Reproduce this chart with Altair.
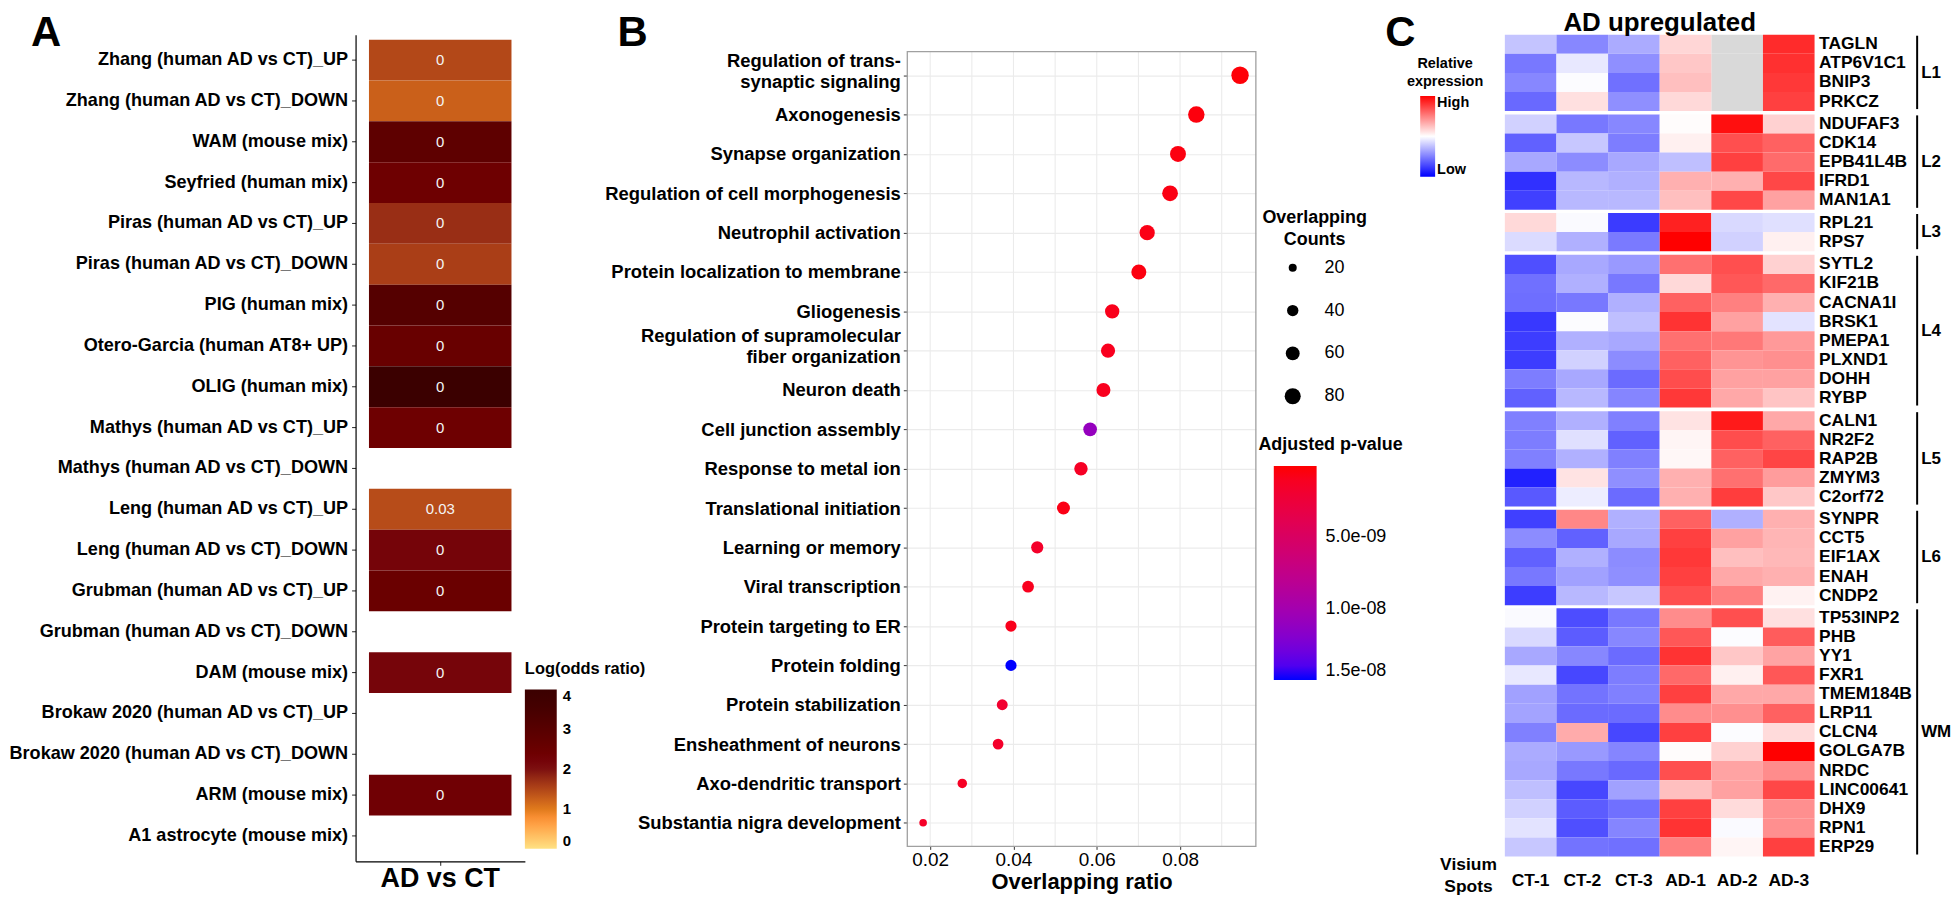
import altair as alt
import pandas as pd

FONT = "Liberation Sans"
NARROW = "Liberation Sans Narrow, Liberation Sans, sans-serif"

# ---------------- Panel A data ----------------
A_sets = [
    "Zhang (human AD vs CT)_UP", "Zhang (human AD vs CT)_DOWN", "WAM (mouse mix)",
    "Seyfried (human mix)", "Piras (human AD vs CT)_UP", "Piras (human AD vs CT)_DOWN",
    "PIG (human mix)", "Otero-Garcia (human AT8+ UP)", "OLIG (human mix)",
    "Mathys (human AD vs CT)_UP", "Mathys (human AD vs CT)_DOWN", "Leng (human AD vs CT)_UP",
    "Leng (human AD vs CT)_DOWN", "Grubman (human AD vs CT)_UP", "Grubman (human AD vs CT)_DOWN",
    "DAM (mouse mix)", "Brokaw 2020 (human AD vs CT)_UP", "Brokaw 2020 (human AD vs CT)_DOWN",
    "ARM (mouse mix)", "A1 astrocyte (mouse mix)",
]
A_log_odds = [1.48, 1.24, 2.82, 2.40, 1.73, 1.57, 3.10, 2.56, 4.00, 2.40,
              None, 1.44, 2.20, 2.50, None, 2.18, None, None, 2.34, None]
A_cell_text = ["0", "0", "0", "0", "0", "0", "0", "0", "0", "0",
               None, "0.03", "0", "0", None, "0", None, None, "0", None]
A_comparison = "AD vs CT"
A_legend_ticks = [0, 1, 2, 3, 4]

# ---------------- Panel B data ----------------
B_terms = [
    "Regulation of trans-|synaptic signaling", "Axonogenesis", "Synapse organization",
    "Regulation of cell morphogenesis", "Neutrophil activation", "Protein localization to membrane",
    "Gliogenesis", "Regulation of supramolecular|fiber organization", "Neuron death",
    "Cell junction assembly", "Response to metal ion", "Translational initiation",
    "Learning or memory", "Viral transcription", "Protein targeting to ER", "Protein folding",
    "Protein stabilization", "Ensheathment of neurons", "Axo-dendritic transport",
    "Substantia nigra development",
]
B_ratio = [0.0944, 0.0839, 0.0795, 0.0776, 0.0721, 0.0701, 0.0637, 0.0627, 0.0616, 0.0584,
           0.0562, 0.0520, 0.0457, 0.0435, 0.0394, 0.0394, 0.0373, 0.0363, 0.0277, 0.0183]
B_count = [94, 84, 79, 77, 72, 70, 64, 62, 61, 58, 56, 52, 46, 43, 39, 39, 37, 36, 28, 18]
B_padj = [2e-10, 3e-10, 4e-10, 5e-10, 6e-10, 4e-10, 8e-10, 9e-10, 9e-10, 1.1e-08,
          1.2e-09, 6e-10, 1.5e-09, 9e-10, 8e-10, 1.5e-08, 1.8e-09, 1.5e-09, 1.2e-09, 1.4e-09]
B_x_ticks = [0.02, 0.04, 0.06, 0.08]
B_x_minor = [0.03, 0.05, 0.07, 0.09]
B_size_ticks = [20, 40, 60, 80]
B_p_ticks = [5e-9, 1e-8, 1.5e-8]

# ---------------- Panel C data ----------------
C_samples = ["CT-1", "CT-2", "CT-3", "AD-1", "AD-2", "AD-3"]
C_groups = ["L1", "L2", "L3", "L4", "L5", "L6", "WM"]
C_genes = {
    "L1": ["TAGLN", "ATP6V1C1", "BNIP3", "PRKCZ"],
    "L2": ["NDUFAF3", "CDK14", "EPB41L4B", "IFRD1", "MAN1A1"],
    "L3": ["RPL21", "RPS7"],
    "L4": ["SYTL2", "KIF21B", "CACNA1I", "BRSK1", "PMEPA1", "PLXND1", "DOHH", "RYBP"],
    "L5": ["CALN1", "NR2F2", "RAP2B", "ZMYM3", "C2orf72"],
    "L6": ["SYNPR", "CCT5", "EIF1AX", "ENAH", "CNDP2"],
    "WM": ["TP53INP2", "PHB", "YY1", "FXR1", "TMEM184B", "LRP11", "CLCN4", "GOLGA7B",
           "NRDC", "LINC00641", "DHX9", "RPN1", "ERP29"],
}
C_expr = {
    "L1": [[-0.23, -0.47, -0.33, 0.16, None, 0.83],
           [-0.53, -0.09, -0.44, 0.22, None, 0.81],
           [-0.47, -0.01, -0.56, 0.25, None, 0.78],
           [-0.59, 0.12, -0.44, 0.15, None, 0.75]],
    "L2": [[-0.18, -0.53, -0.47, 0.01, 0.94, 0.18],
           [-0.62, -0.22, -0.51, 0.06, 0.69, 0.62],
           [-0.34, -0.45, -0.34, -0.25, 0.75, 0.58],
           [-0.81, -0.28, -0.31, 0.31, 0.31, 0.72],
           [-0.75, -0.28, -0.28, 0.25, 0.72, 0.37]],
    "L3": [[0.15, -0.02, -0.77, 0.87, -0.15, -0.12],
           [-0.14, -0.31, -0.52, 1.00, -0.18, 0.06]],
    "L4": [[-0.69, -0.34, -0.40, 0.56, 0.69, 0.18],
           [-0.56, -0.31, -0.53, 0.15, 0.66, 0.59],
           [-0.57, -0.53, -0.31, 0.62, 0.50, 0.31],
           [-0.78, -0.01, -0.25, 0.80, 0.37, -0.11],
           [-0.76, -0.31, -0.34, 0.56, 0.53, 0.40],
           [-0.76, -0.18, -0.45, 0.62, 0.42, 0.44],
           [-0.51, -0.34, -0.58, 0.70, 0.37, 0.37],
           [-0.62, -0.28, -0.48, 0.78, 0.34, 0.23]],
    "L5": [[-0.50, -0.31, -0.50, 0.11, 0.90, 0.34],
           [-0.51, -0.12, -0.62, 0.04, 0.70, 0.62],
           [-0.50, -0.31, -0.50, 0.03, 0.62, 0.73],
           [-0.87, 0.11, -0.44, 0.31, 0.56, 0.39],
           [-0.65, -0.07, -0.58, 0.31, 0.76, 0.22]],
    "L6": [[-0.75, 0.47, -0.31, 0.62, -0.31, 0.31],
           [-0.45, -0.62, -0.34, 0.75, 0.37, 0.29],
           [-0.62, -0.31, -0.45, 0.78, 0.25, 0.28],
           [-0.53, -0.37, -0.44, 0.75, 0.34, 0.31],
           [-0.76, -0.28, -0.22, 0.69, 0.50, 0.05]],
    "WM": [[-0.02, -0.70, -0.53, 0.45, 0.69, 0.12],
           [-0.15, -0.64, -0.47, 0.66, -0.01, 0.64],
           [-0.34, -0.47, -0.58, 0.80, 0.22, 0.36],
           [-0.09, -0.72, -0.51, 0.59, 0.06, 0.66],
           [-0.37, -0.55, -0.50, 0.75, 0.34, 0.34],
           [-0.36, -0.58, -0.58, 0.45, 0.44, 0.62],
           [-0.50, 0.33, -0.72, 0.75, -0.01, 0.14],
           [-0.33, -0.40, -0.48, 0.01, 0.18, 1.00],
           [-0.34, -0.53, -0.59, 0.69, 0.36, 0.45],
           [-0.25, -0.72, -0.37, 0.25, 0.37, 0.72],
           [-0.18, -0.64, -0.56, 0.75, 0.14, 0.44],
           [-0.11, -0.69, -0.48, 0.80, -0.02, 0.44],
           [-0.22, -0.55, -0.56, 0.50, 0.04, 0.75]],
}

# ---------------- layout constants ----------------
A_W, A_H = 170, 830
B_W, B_TOP, B_BOT = 350, 17, 815
C_W = 311
GAP_AB, GAP_BC = 384, 250
ROW = (823 - 18) / 42.0
LETTER = dict(fontSize=42, fontWeight="bold", font=FONT, color="black",
              anchor="start", frame="group", offset=0, dy=20.8)


def spacer(w, h):
    return alt.Chart(pd.DataFrame({"s": [0]})).mark_point(opacity=0).encode(
        x=alt.value(0), y=alt.value(0)).properties(width=w, height=h)


# ================= Panel A =================
dfA = pd.DataFrame({"set": A_sets, "lor": A_log_odds, "lab": A_cell_text,
                    "cmp": [A_comparison] * len(A_sets)})
yA = alt.Y("set:N", scale=alt.Scale(domain=A_sets, paddingInner=0, paddingOuter=5 / 41),
           axis=alt.Axis(title=None, labelFontSize=18.15, labelFontWeight="bold", labelFont=FONT,
                         labelColor="black", tickSize=4, tickColor="#222222", labelPadding=4,
                         domainColor="black", domainWidth=1.2, labelLimit=0, labelOverlap=False,
                         grid=False))
xA = alt.X("cmp:N", scale=alt.Scale(domain=[A_comparison], paddingInner=0, paddingOuter=0.094),
           axis=alt.Axis(title=None, labelAngle=0, labelFontSize=27, labelFontWeight="bold",
                         labelFont=FONT, labelColor="black", tickSize=4, tickColor="#222222",
                         labelPadding=0, domainColor="black", domainWidth=1.2, grid=False))
rectA = alt.Chart(dfA).transform_filter("isValid(datum.lor)").mark_rect().encode(
    x=xA, y=yA,
    color=alt.Color("lor:Q",
                    scale=alt.Scale(domain=[0, 1, 2, 4],
                                    range=["#FFFFFF", "#E07A1C", "#7D1010", "#000000"]),
                    legend=alt.Legend(title="Log(odds ratio)", orient="none", legendX=170,
                                      legendY=629, direction="vertical", gradientLength=160,
                                      gradientThickness=32, values=A_legend_ticks,
                                      titleFontSize=16.5, titleFontWeight="bold", titleFont=FONT,
                                      titleColor="black", titleAnchor="start", titleAlign="left",
                                      titlePadding=12, titleLimit=0,
                                      labelFontSize=15, labelFontWeight="bold", labelFont=FONT,
                                      labelColor="black", labelOffset=6, padding=0,
                                      gradientStrokeWidth=0)),
)
textA = alt.Chart(dfA).transform_filter("isValid(datum.lab)").mark_text(
    color="#F4F4F4", fontSize=15, font=NARROW).encode(x=xA, y=yA, text="lab:N")
plotA = alt.layer(rectA, textA).properties(
    width=A_W, height=A_H, title=alt.TitleParams("A", dx=-326, **LETTER))

# ================= Panel B =================
dfB = pd.DataFrame({"term": B_terms, "ratio": B_ratio, "count": B_count, "padj": B_padj})
xscaleB = alt.Scale(domain=[0.0145, 0.0982], nice=False, zero=False)
xB = alt.X("ratio:Q", scale=xscaleB,
           axis=alt.Axis(values=B_x_ticks, format=".2f", title="Overlapping ratio",
                         titleFontSize=22, titleFontWeight="bold", titleFont=FONT,
                         titleColor="black", titlePadding=2, labelFontSize=19, labelFont=FONT,
                         labelColor="black", labelFlush=False, tickSize=3, tickColor="#333333",
                         labelPadding=1, domain=False, grid=False))
yB = alt.Y("term:N", scale=alt.Scale(domain=B_terms, type="point", padding=0.6,
                                     range=[B_TOP, B_BOT]),
           axis=alt.Axis(title=None, labelExpr="split(datum.label, '|')", labelFontSize=18.5,
                         labelFontWeight="bold", labelFont=FONT, labelColor="black",
                         labelLineHeight=21, labelLimit=0, labelOverlap=False, tickSize=4,
                         labelOffset={"condition": {"test": "indexof(datum.value, '|') >= 0",
                                                    "value": -15}, "value": 0},
                         tickColor="#333333", labelPadding=3, domain=False, grid=True,
                         gridColor="#EBEBEB", gridWidth=1.2))
gridB = alt.Chart(pd.DataFrame({"g": B_x_ticks + B_x_minor})).mark_rule(
    color="#EBEBEB", strokeWidth=1.1).encode(
    x=alt.X("g:Q", scale=xscaleB), y=alt.value(B_TOP), y2=alt.value(B_BOT))
frameB = alt.Chart(pd.DataFrame({"f": [0]})).mark_rect(
    filled=False, stroke="#A0A0A0", strokeWidth=1.3).encode(
    x=alt.value(0), x2=alt.value(B_W), y=alt.value(B_TOP), y2=alt.value(B_BOT))
pointsB = alt.Chart(dfB).transform_calculate(negp="-datum.padj").mark_circle(opacity=1).encode(
    x=xB, y=yB,
    size=alt.Size("count:Q", scale=alt.Scale(domain=[0, 100], range=[0, 325]),
                  legend=alt.Legend(title=["Overlapping", "Counts"], orient="none", legendX=356,
                                    legendY=175, values=B_size_ticks, symbolType="circle",
                                    symbolFillColor="black", symbolStrokeColor="black",
                                    symbolStrokeWidth=0, symbolOpacity=1, labelFontSize=18,
                                    labelFont=FONT, labelColor="black", labelOffset=23,
                                    rowPadding=25, titleAnchor="middle", titleAlign="center",
                                    titleFontSize=18, titleFontWeight="bold", titleFont=FONT,
                                    titleColor="black", titleLineHeight=22, titlePadding=10,
                                    padding=0)),
    color=alt.Color("negp:Q",
                    scale=alt.Scale(domain=[-1.5e-8, 0], range=["#0000FF", "#FF0000"],
                                    interpolate="lab"),
                    legend=alt.Legend(title="Adjusted p-value", orient="none", legendX=352,
                                      legendY=403, direction="vertical", gradientLength=215,
                                      gradientThickness=43,
                                      values=[-v for v in B_p_ticks],
                                      labelExpr="replace(format(-datum.value, '.1e'), 'e-', 'e-0')",
                                      labelFontSize=18, labelFont=FONT, labelColor="black",
                                      labelOffset=9, titleAnchor="middle", titleFontSize=18,
                                      titleFontWeight="bold", titleFont=FONT, titleColor="black",
                                      titlePadding=12, titleLimit=0, padding=0,
                                      gradientStrokeWidth=0)),
)
plotB = alt.layer(gridB, frameB, pointsB).properties(
    width=B_W, height=B_BOT, title=alt.TitleParams("B", dx=-291, **LETTER))

# ================= Panel C =================
colorC = alt.Scale(domain=[-1, 0, 1], range=["#0000FF", "#FFFFFF", "#FF0000"], interpolate="rgb")
legC = alt.Legend(title=["Relative", "expression"], orient="none", legendX=-98, legendY=22,
                  direction="vertical", gradientLength=81, gradientThickness=15, values=[-1, 1],
                  labelExpr="datum.value > 0 ? 'High' : 'Low'", titleAnchor="middle",
                  titleAlign="center", titleFontSize=14.5, titleFontWeight="bold", titleFont=FONT,
                  titleColor="black", titleLineHeight=18, titlePadding=7, labelFontSize=14.5,
                  labelFontWeight="bold", labelFont=FONT, labelColor="black", labelOffset=2,
                  padding=0, gradientStrokeWidth=0)

children = []
for i, g in enumerate(C_groups):
    genes = C_genes[g]
    rows = []
    for gene, vals in zip(genes, C_expr[g]):
        for s, v in zip(C_samples, vals):
            rows.append({"gene": gene, "sample": s, "v": v})
    df = pd.DataFrame(rows)
    h = ROW * len(genes)
    last = (i == len(C_groups) - 1)
    xaxis = alt.Axis(orient="bottom", title=["Visium", "Spots"], titleFontSize=17.5,
                     titleFontWeight="bold", titleFont=FONT, titleColor="black", titleX=-37,
                     titleY=-1, titleAlign="center", titleBaseline="top", titleLineHeight=22,
                     titleAngle=0, labelAngle=0, labelFontSize=17.5, labelFontWeight="bold",
                     labelFont=FONT, labelColor="black", ticks=False, domain=False,
                     labelPadding=15) if last else None
    xC = alt.X("sample:N", scale=alt.Scale(domain=C_samples, paddingInner=0, paddingOuter=0),
               axis=xaxis)
    yC = alt.Y("gene:N", scale=alt.Scale(domain=genes, paddingInner=0, paddingOuter=0),
               axis=alt.Axis(orient="right", title=None, labelFontSize=17.5,
                             labelFontWeight="bold", labelFont=FONT, labelColor="black",
                             ticks=False, domain=False, labelPadding=4, labelLimit=0,
                             labelOverlap=False, grid=False))
    na = alt.Chart(df).transform_filter("!isValid(datum.v)").mark_rect(color="#D9D9D9").encode(
        x=xC, y=yC)
    cells = alt.Chart(df).transform_filter("isValid(datum.v)").mark_rect().encode(
        x=xC, y=yC, color=alt.Color("v:Q", scale=colorC, legend=legC))
    gdf = pd.DataFrame({"grp": [g]})
    bar = alt.Chart(gdf).mark_rule(color="black", strokeWidth=2).encode(
        x=alt.value(414), y=alt.value(1), y2=alt.value(h - 2))
    lab = alt.Chart(gdf).mark_text(align="left", baseline="middle", fontSize=17,
                                   fontWeight="bold", font=FONT, color="black").encode(
        x=alt.value(418), y=alt.value(h / 2), text="grp:N")
    ch = alt.layer(na, cells, bar, lab).properties(width=C_W, height=h)
    if i == 0:
        ch = ch.properties(title=alt.TitleParams("AD upregulated", fontSize=26, fontWeight="bold",
                                                 font=FONT, color="black", anchor="middle",
                                                 frame="group", offset=-1.5))
    children.append(ch)

vC = alt.vconcat(*children, spacing=3, bounds="flush").properties(
    title=alt.TitleParams("C", dx=-120, fontSize=42, fontWeight="bold", font=FONT, color="black",
                          anchor="start", frame="group", offset=0, dy=45.3))

chart = alt.hconcat(plotA, spacer(GAP_AB, 1), plotB, spacer(GAP_BC, 1), vC,
                    spacing=0, bounds="flush").resolve_scale(
    color="independent", size="independent").properties(
    padding=0, background="white").configure(font=FONT).configure_view(stroke=None)

chart.save("out.html", embed_options={"renderer": "svg", "actions": False})
